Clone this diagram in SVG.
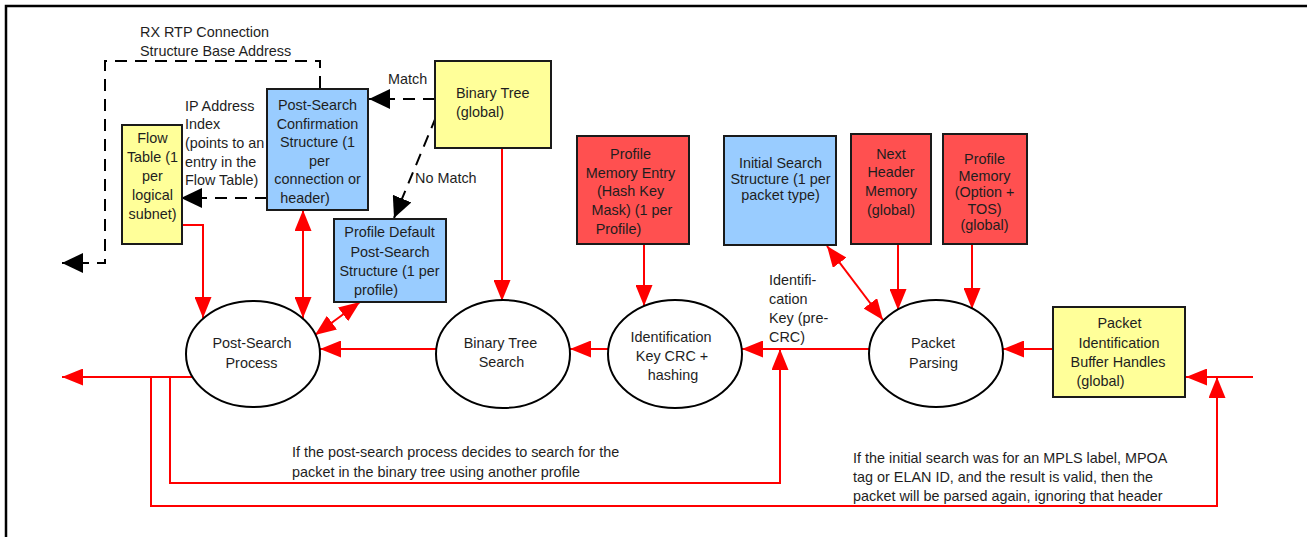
<svg xmlns="http://www.w3.org/2000/svg" width="1307" height="537" viewBox="0 0 1307 537">
<style>
text{font-family:"Liberation Sans",Arial,sans-serif;font-size:14.4px;fill:#1e1e1e}
.c{text-anchor:middle}
.box{stroke:#1a1a1a;stroke-width:2}
.y{fill:#FFFF99}
.b{fill:#99CCFF}
.r{fill:#FF5050}
.ell{fill:#fff;stroke:#000;stroke-width:2}
.red{fill:none;stroke:#FF0000;stroke-width:2}
.dash{fill:none;stroke:#000;stroke-width:2;stroke-dasharray:12 8}
</style>
<defs>
<marker id="ar" markerUnits="userSpaceOnUse" markerWidth="22" markerHeight="17" refX="21" refY="8.5" orient="auto-start-reverse" viewBox="0 0 22 17"><path d="M0,0 L21,8.5 L0,17 z" fill="#FF0000"/></marker>
<marker id="ab" markerUnits="userSpaceOnUse" markerWidth="22" markerHeight="20" refX="21" refY="10" orient="auto" viewBox="0 0 22 20"><path d="M0,0 L21,10 L0,20 z" fill="#000"/></marker>
</defs>
<rect width="1307" height="537" fill="#fff"/>
<path d="M6,537 V6 H1307" fill="none" stroke="#000" stroke-width="2.5"/>

<g id="connectors">
<path class="dash" d="M320,88 V61 H105 V263 H62" marker-end="url(#ab)"/>
<path class="dash" d="M267,198 H181" marker-end="url(#ab)"/>
<path class="dash" d="M435,99 H369" marker-end="url(#ab)"/>
<path class="dash" d="M436,117 L394,218" marker-end="url(#ab)"/>
<path class="red" d="M502,148 V301" marker-end="url(#ar)"/>
<path class="red" d="M644,244 V306" marker-end="url(#ar)"/>
<path class="red" d="M898,244 V310" marker-end="url(#ar)"/>
<path class="red" d="M972,244 V309" marker-end="url(#ar)"/>
<path class="red" d="M827,246 L883,320" marker-start="url(#ar)" marker-end="url(#ar)"/>
<path class="red" d="M1053,349 H1003" marker-end="url(#ar)"/>
<path class="red" d="M869,349 H742" marker-end="url(#ar)"/>
<path class="red" d="M608,349 H570" marker-end="url(#ar)"/>
<path class="red" d="M436,349 H320" marker-end="url(#ar)"/>
<path class="red" d="M192,377 H62" marker-end="url(#ar)"/>
<path class="red" d="M1253,377 H1186" marker-end="url(#ar)"/>
<path class="red" d="M151,377 V506 H1217 V377" marker-end="url(#ar)"/>
<path class="red" d="M170,377 V483 H780 V349" marker-end="url(#ar)"/>
<path class="red" d="M182,225 H203 V318" marker-end="url(#ar)"/>
<path class="red" d="M303,210 V318" marker-start="url(#ar)" marker-end="url(#ar)"/>
<path class="red" d="M360,302 L315,335" marker-start="url(#ar)" marker-end="url(#ar)"/>
</g>

<g id="labels">
<text x="140" y="37">RX RTP Connection</text>
<text x="140" y="55.5">Structure Base Address</text>
<text x="185" y="110.5">IP Address</text>
<text x="185" y="129.2">Index</text>
<text x="185" y="147.9">(points to an</text>
<text x="185" y="166.6">entry in the</text>
<text x="185" y="185.3">Flow Table)</text>
<text x="388" y="84">Match</text>
<text x="415" y="183">No Match</text>
<text x="769" y="285">Identifi-</text>
<text x="769" y="304">cation</text>
<text x="769" y="323">Key (pre-</text>
<text x="769" y="342">CRC)</text>
<text x="292" y="457.3">If the post-search process decides to search for the</text>
<text x="292" y="476.5">packet in the binary tree using another profile</text>
<text x="853" y="463.3">If the initial search was for an MPLS label, MPOA</text>
<text x="853" y="482.3">tag or ELAN ID, and the result is valid, then the</text>
<text x="853" y="501.3">packet will be parsed again, ignoring that header</text>
</g>

<g id="flow-table">
<rect class="box y" x="122" y="125" width="60" height="119"/>
<text class="c" x="152.5" y="143">Flow</text>
<text class="c" x="152.5" y="162">Table (1</text>
<text class="c" x="152.5" y="181">per</text>
<text class="c" x="152.5" y="200">logical</text>
<text class="c" x="152.5" y="218.5">subnet)</text>
</g>

<g id="post-search-confirmation">
<rect class="box b" x="267" y="89" width="101" height="121"/>
<text class="c" x="317.5" y="110">Post-Search</text>
<text class="c" x="317.5" y="128.6">Confirmation</text>
<text class="c" x="317.5" y="147.2">Structure (1</text>
<text class="c" x="319.5" y="165.8">per</text>
<text class="c" x="317.5" y="184.4">connection or</text>
<text class="c" x="305" y="203">header)</text>
</g>

<g id="binary-tree">
<rect class="box y" x="435" y="61" width="116" height="87"/>
<text x="456" y="98">Binary Tree</text>
<text x="456" y="116.5">(global)</text>
</g>

<g id="profile-default">
<rect class="box b" x="334" y="219" width="112" height="83"/>
<text class="c" x="389.5" y="237">Profile  Default</text>
<text class="c" x="390" y="256.5">Post-Search</text>
<text class="c" x="389.5" y="276">Structure (1 per</text>
<text class="c" x="376" y="295">profile)</text>
</g>

<g id="profile-memory-entry">
<rect class="box r" x="577" y="136" width="112" height="108"/>
<text class="c" x="630.5" y="158.5">Profile</text>
<text class="c" x="630.5" y="177.5">Memory Entry</text>
<text class="c" x="630.5" y="196.3">(Hash Key</text>
<text class="c" x="632" y="215">Mask) (1 per</text>
<text class="c" x="618.5" y="233.5">Profile)</text>
</g>

<g id="initial-search">
<rect class="box b" x="724" y="136" width="112" height="109"/>
<text class="c" x="780.5" y="168.3">Initial Search</text>
<text class="c" x="780.5" y="184.3">Structure (1 per</text>
<text class="c" x="780.5" y="200.3">packet type)</text>
</g>

<g id="next-header-memory">
<rect class="box r" x="851" y="134" width="80" height="110"/>
<text class="c" x="891" y="158.5">Next</text>
<text class="c" x="891" y="177.3">Header</text>
<text class="c" x="891" y="196.3">Memory</text>
<text class="c" x="891" y="214.5">(global)</text>
</g>

<g id="profile-memory-option">
<rect class="box r" x="943" y="134" width="84" height="110"/>
<text class="c" x="984.5" y="164.3">Profile</text>
<text class="c" x="984.5" y="180.7">Memory</text>
<text class="c" x="984.5" y="197.2">(Option +</text>
<text class="c" x="984.5" y="213.5">TOS)</text>
<text class="c" x="984.5" y="229.7">(global)</text>
</g>

<g id="packet-id-buffer">
<rect class="box y" x="1053" y="307" width="132" height="90"/>
<text class="c" x="1119.5" y="328.3">Packet</text>
<text class="c" x="1119" y="347.6">Identification</text>
<text class="c" x="1118" y="366.8">Buffer Handles</text>
<text class="c" x="1100.5" y="385.8">(global)</text>
</g>

<g id="post-search-process">
<ellipse class="ell" cx="253" cy="354" rx="67" ry="53"/>
<text class="c" x="252" y="348.3">Post-Search</text>
<text class="c" x="251.5" y="367.7">Process</text>
</g>

<g id="binary-tree-search">
<ellipse class="ell" cx="503" cy="354" rx="67" ry="54"/>
<text class="c" x="500.5" y="348.3">Binary Tree</text>
<text class="c" x="501.5" y="367.3">Search</text>
</g>

<g id="id-key-crc">
<ellipse class="ell" cx="675" cy="354" rx="67" ry="54"/>
<text class="c" x="671" y="341.7">Identification</text>
<text class="c" x="672" y="360.7">Key CRC +</text>
<text class="c" x="673" y="379.5">hashing</text>
</g>

<g id="packet-parsing">
<ellipse class="ell" cx="936" cy="353.5" rx="67" ry="53.5"/>
<text class="c" x="933" y="348.3">Packet</text>
<text class="c" x="933.5" y="367.7">Parsing</text>
</g>
</svg>
